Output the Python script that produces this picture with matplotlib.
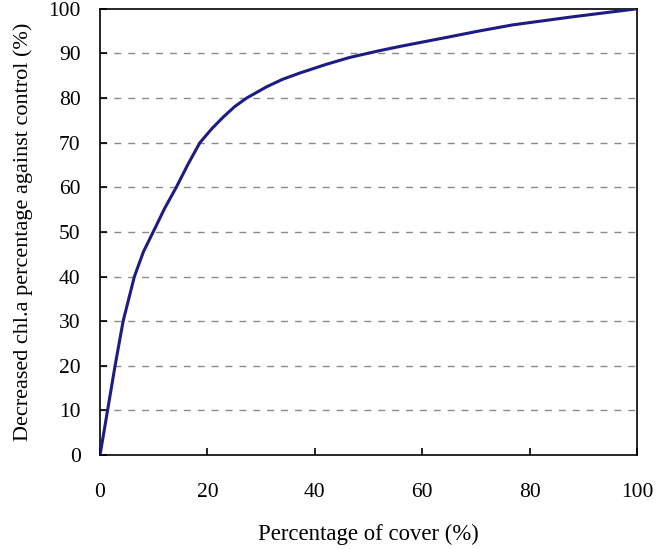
import numpy as np
import matplotlib.pyplot as plt

# percentage of cover vs decreased chl.a
cover = [0, 1.4, 2.8, 4.3, 6.4, 8.1, 9.9, 12, 14.2, 16.4, 18.6, 20.8, 23, 25.1, 27.3, 31, 34, 37.2, 42, 46.5,
	52, 56, 64.6, 70.5, 76.9, 88, 100]
decrease = [0, 10, 20, 30, 40, 45.6, 50, 55.2, 60, 65.2, 70, 73.1, 75.8, 78.1, 80, 82.5, 84.2, 85.6, 87.5, 89.1,
	90.6, 91.6, 93.6, 95.0, 96.4, 98.2, 100]

xticks = [0, 20, 40, 60, 80, 100]
yticks = list(range(0, 101, 10))

plt.rcParams['font.family'] = ['Liberation Serif', 'DejaVu Serif']

fig = plt.figure(figsize=(6.58, 5.49), dpi=100)
ax = fig.add_axes([0.152, 0.171, 0.816, 0.813])

for y in yticks[1:-1]:
	ax.axhline(y, color='#8a8a8a', lw=1.0, ls=(0, (5, 5)), zorder=1)

ax.plot(cover, decrease, color='#1c1c84', lw=2.2, zorder=3, solid_joinstyle='round')

ax.set_xlim(0, 100)
ax.set_ylim(0, 100)
ax.set_xticks(xticks)
ax.set_yticks(yticks)
ax.tick_params(direction='in', length=5, width=1.2, labelsize=15.5)
ax.tick_params(axis='x', pad=20)
ax.tick_params(axis='y', pad=14)
for s in ax.spines.values():
	s.set_linewidth(1.2)

ax.set_xlabel('Percentage of cover (%)', fontsize=16.4, labelpad=16)
ax.set_ylabel('Decreased chl.a percentage against control (%)', fontsize=16, labelpad=11)

fig.savefig('out.png', dpi=100)
